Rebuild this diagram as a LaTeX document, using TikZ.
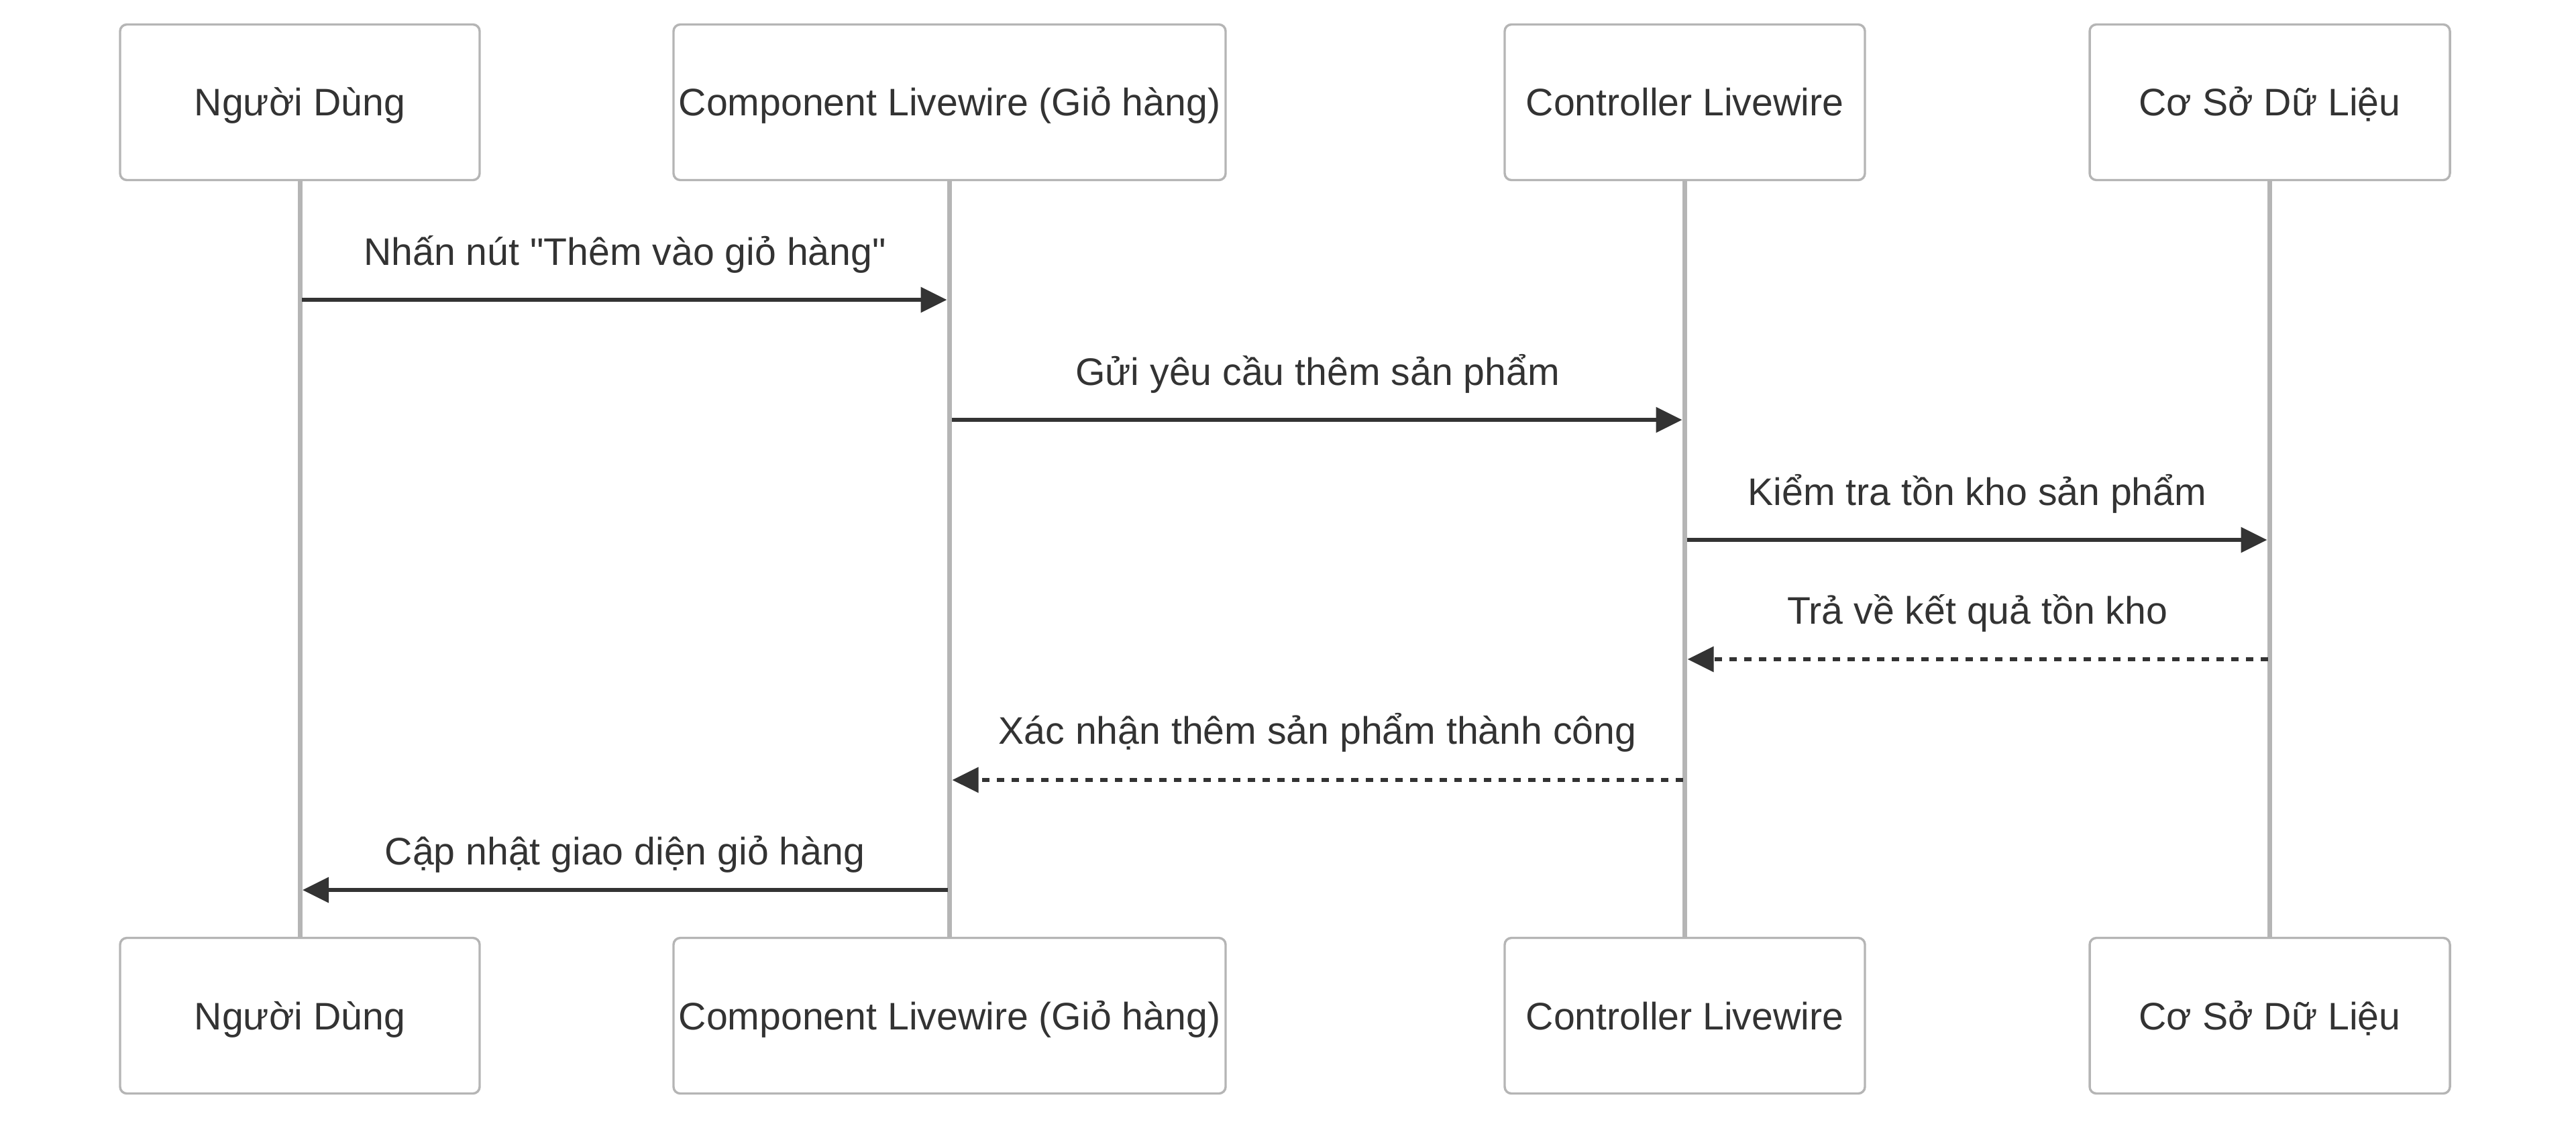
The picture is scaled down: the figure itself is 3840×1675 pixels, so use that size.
\documentclass[tikz,border=0pt]{standalone}
\usepackage{fontspec}
\setmainfont{Liberation Sans}
\newfontfamily\dfont{Liberation Sans}
\usetikzlibrary{arrows.meta}
\definecolor{ink}{HTML}{333333}
\definecolor{lifegray}{HTML}{B5B5B5}
\definecolor{boxgray}{HTML}{B5B5B5}
\begin{document}
\begin{tikzpicture}[x=0.25pt,y=-0.25pt,
  actorbox/.style={draw=boxgray, line width=0.85pt, fill=white, rounded corners=2.5pt,
    minimum height=58pt, inner sep=0pt, text height=10.24pt, text depth=0pt,
    text=ink, font=\dfont\fontsize{14.3}{17}\selectfont},
  lifeline/.style={draw=lifegray, line width=1.75pt},
  msg/.style={draw=ink, line width=1.5pt, -{Triangle[length=9.75pt,width=9.25pt]},
    shorten <=0.75pt, shorten >=1pt},
  reply/.style={msg, dash pattern=on 2.75pt off 2.75pt},
  lbl/.style={anchor=base, inner sep=0pt, text=ink, font=\dfont\fontsize{14.3}{17}\selectfont}]
\useasboundingbox[fill=white] (0,0) rectangle (3840,1675);
% top actors
\node[actorbox, minimum width=134pt] (a1) at (447,152.5) {Người Dùng};
\node[actorbox, minimum width=205.75pt] (a2) at (1415.5,152.5) {Component Livewire (Giỏ hàng)};
\node[actorbox, minimum width=134.25pt] (a3) at (2511.5,152.5) {Controller Livewire};
\node[actorbox, minimum width=134.25pt] (a4) at (3383.5,152.5) {Cơ Sở Dữ Liệu};
% bottom actors
\node[actorbox, minimum width=134pt] (b1) at (447,1514.5) {Người Dùng};
\node[actorbox, minimum width=205.75pt] (b2) at (1415.5,1514.5) {Component Livewire (Giỏ hàng)};
\node[actorbox, minimum width=134.25pt] (b3) at (2511.5,1514.5) {Controller Livewire};
\node[actorbox, minimum width=134.25pt] (b4) at (3383.5,1514.5) {Cơ Sở Dữ Liệu};
% lifelines
\draw[lifeline] (a1.south) -- (b1.north);
\draw[lifeline] (a2.south) -- (b2.north);
\draw[lifeline] (a3.south) -- (b3.north);
\draw[lifeline] (a4.south) -- (b4.north);
% messages
\draw[msg] (a1.south |- 0,447) -- (a2.south |- 0,447);
\node[lbl] (t1) at (931.5,395) {Nhấn nút "Thêm vào giỏ hàng"};
\draw[msg] (a2.south |- 0,626) -- (a3.south |- 0,626);
\node[lbl] (t2) at (1964,574) {Gửi yêu cầu thêm sản phẩm};
\draw[msg] (a3.south |- 0,805) -- (a4.south |- 0,805);
\node[lbl] (t3) at (2947.5,753) {Kiểm tra tồn kho sản phẩm};
\draw[reply] (a4.south |- 0,983) -- (a3.south |- 0,983);
\node[lbl] (t4) at (2947.5,930) {Trả về kết quả tồn kho};
\draw[reply] (a3.south |- 0,1163) -- (a2.south |- 0,1163);
\node[lbl] (t5) at (1964,1109) {Xác nhận thêm sản phẩm thành công};
\draw[msg] (a2.south |- 0,1327) -- (a1.south |- 0,1327);
\node[lbl] (t6) at (931.5,1289) {Cập nhật giao diện giỏ hàng};
\end{tikzpicture}
\end{document}
